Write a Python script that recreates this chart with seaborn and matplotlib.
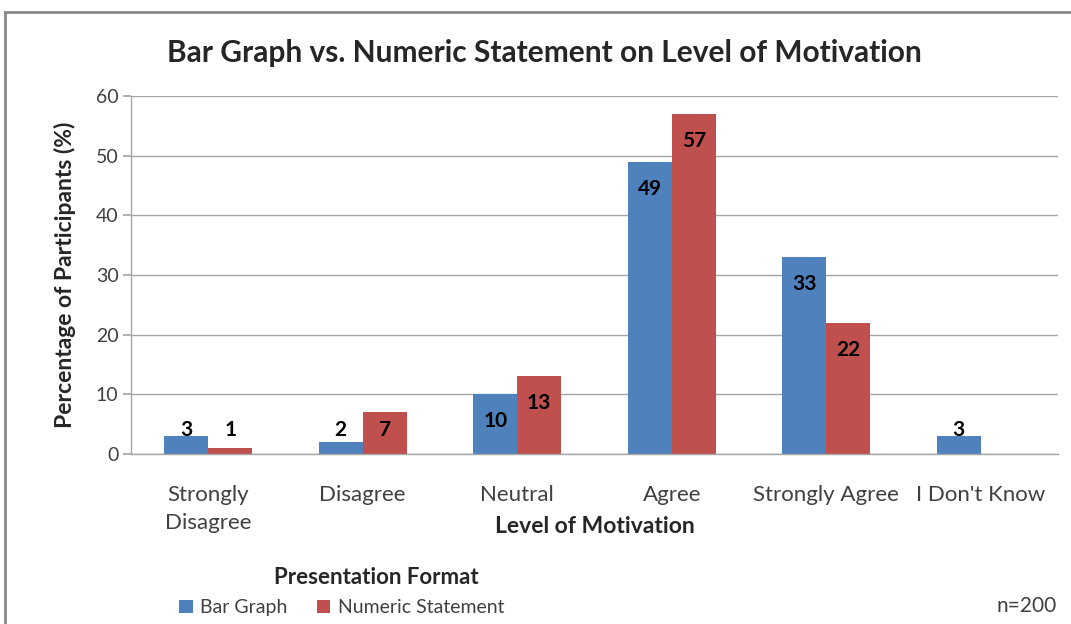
import matplotlib
matplotlib.use('Agg')
import matplotlib.pyplot as plt
from matplotlib.patches import Rectangle, Patch
import seaborn as sns
import pandas as pd
import numpy as np

# chart data
levels = ['Strongly\nDisagree', 'Disagree', 'Neutral', 'Agree', 'Strongly Agree', "I Don't Know"]
bar_graph = [3, 2, 10, 49, 33, 3]
numeric_statement = [1, 7, 13, 57, 22, np.nan]
formats = ['Bar Graph', 'Numeric Statement']
colors = ['#4F81BD', '#C0504D']

df = pd.DataFrame({
    'Level': levels * 2,
    'Format': [formats[0]] * len(levels) + [formats[1]] * len(levels),
    'Percent': bar_graph + numeric_statement,
})

sns.set_theme(style='white')
plt.rcParams['font.family'] = ['Lato', 'DejaVu Sans']

fig = plt.figure(figsize=(10.71, 6.24), dpi=100)
ax = fig.add_axes([0.1223, 0.2724, 0.8655, 0.5737])

sns.barplot(data=df, x='Level', y='Percent', hue='Format', order=levels,
            hue_order=formats, palette=colors, width=0.57, gap=0,
            saturation=1, legend=False, ax=ax, edgecolor='none')

ax.set_xlim(-0.5, len(levels) - 0.5)
ax.set_ylim(0, 60)
ax.set_yticks(range(0, 61, 10))
ax.yaxis.grid(True, color='#A6A6A6', linewidth=1)
ax.set_axisbelow(True)
for side in ['top', 'right']:
    ax.spines[side].set_visible(False)
for side in ['left', 'bottom']:
    ax.spines[side].set_color('#A6A6A6')
    ax.spines[side].set_linewidth(1)
ax.tick_params(axis='y', left=True, length=6, color='#A6A6A6', labelsize=14,
               labelcolor='#404040', pad=3)
ax.tick_params(axis='x', bottom=False, labelsize=16, labelcolor='#404040', pad=16)
for lbl in ax.get_xticklabels():
    lbl.set_linespacing(1.5)

ax.set_xlabel('Level of Motivation', fontsize=16.5, fontweight='bold', labelpad=-12)
ax.set_ylabel('Percentage of Participants (%)', fontsize=16.5, fontweight='bold', labelpad=14)

# value labels inside the top of each bar
for cont, vals in zip(ax.containers, [bar_graph, numeric_statement]):
    for patch, v in zip(cont.patches, vals):
        if np.isnan(v):
            continue
        x = patch.get_x() + patch.get_width() / 2
        y = max(v - 4.5, 4.0)
        ax.text(x, y, f'{int(v)}', ha='center', va='center', fontsize=15,
                fontweight='bold', color='black')

fig.text(0.508, 0.915, 'Bar Graph vs. Numeric Statement on Level of Motivation',
         ha='center', va='center', fontsize=21.5, fontweight='bold')

# legend
fig.text(0.351, 0.074, 'Presentation Format', ha='center', va='center',
         fontsize=16, fontweight='bold')
handles = [Patch(facecolor=c, edgecolor='none') for c in colors]
leg = fig.legend(handles, formats, loc='center left', bbox_to_anchor=(0.158, 0.026),
                 ncol=2, frameon=False, fontsize=14, handlelength=0.7,
                 handleheight=0.7, handletextpad=0.4, columnspacing=1.5,
                 borderpad=0, labelspacing=0)
for t in leg.get_texts():
    t.set_color('#404040')

fig.text(0.987, 0.029, 'n=200', ha='right', va='center', fontsize=15, color='#404040')

# outer chart frame
fig.patches.append(Rectangle((0.005, -0.1), 1.2, 1.08, transform=fig.transFigure,
                             fill=False, edgecolor='#888888', linewidth=2))

fig.savefig('out.png', dpi=100)
